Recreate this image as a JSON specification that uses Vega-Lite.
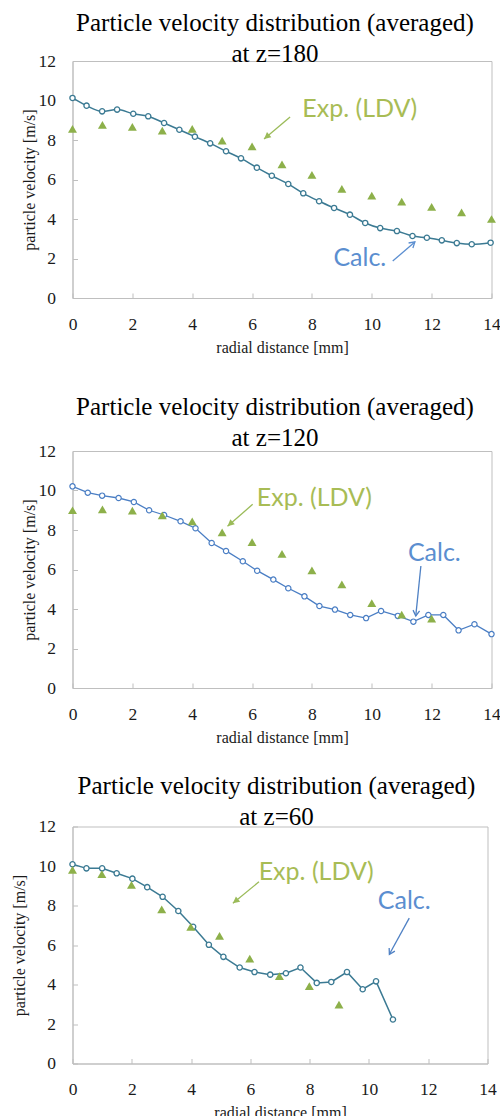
{
  "$schema": "https://vega.github.io/schema/vega-lite/v6.json",
  "background": "white",
  "padding": {"left": 10.5, "top": 10, "right": 5, "bottom": 5},
  "datasets": {
    "c180": [
      {"r": 0, "v": 10.13}, {"r": 0.47, "v": 9.74}, {"r": 0.99, "v": 9.45}, {"r": 1.49, "v": 9.54}, {"r": 2.03, "v": 9.33},
      {"r": 2.53, "v": 9.2}, {"r": 3.06, "v": 8.86}, {"r": 3.57, "v": 8.52}, {"r": 4.09, "v": 8.17}, {"r": 4.6, "v": 7.83},
      {"r": 5.13, "v": 7.43}, {"r": 5.63, "v": 7.07}, {"r": 6.16, "v": 6.6}, {"r": 6.66, "v": 6.19}, {"r": 7.21, "v": 5.77},
      {"r": 7.71, "v": 5.3}, {"r": 8.24, "v": 4.9}, {"r": 8.74, "v": 4.56}, {"r": 9.27, "v": 4.22}, {"r": 9.78, "v": 3.8},
      {"r": 10.28, "v": 3.54}, {"r": 10.84, "v": 3.39}, {"r": 11.36, "v": 3.14}, {"r": 11.84, "v": 3.05}, {"r": 12.34, "v": 2.92},
      {"r": 12.84, "v": 2.78}, {"r": 13.34, "v": 2.72}, {"r": 13.97, "v": 2.8}
    ],
    "e180": [
      {"r": 0, "v": 8.56}, {"r": 1, "v": 8.76}, {"r": 2, "v": 8.67}, {"r": 3, "v": 8.47}, {"r": 4, "v": 8.56},
      {"r": 5, "v": 7.97}, {"r": 6, "v": 7.68}, {"r": 7, "v": 6.77}, {"r": 8, "v": 6.23}, {"r": 9, "v": 5.52},
      {"r": 10, "v": 5.18}, {"r": 11, "v": 4.88}, {"r": 12, "v": 4.62}, {"r": 13, "v": 4.34}, {"r": 14, "v": 4.0}
    ],
    "c120": [
      {"r": 0, "v": 10.21}, {"r": 0.51, "v": 9.89}, {"r": 0.99, "v": 9.74}, {"r": 1.54, "v": 9.62}, {"r": 2.05, "v": 9.42},
      {"r": 2.56, "v": 9.0}, {"r": 3.06, "v": 8.76}, {"r": 3.61, "v": 8.44}, {"r": 4.11, "v": 8.09}, {"r": 4.65, "v": 7.34},
      {"r": 5.13, "v": 6.94}, {"r": 5.69, "v": 6.42}, {"r": 6.17, "v": 5.94}, {"r": 6.71, "v": 5.49}, {"r": 7.21, "v": 5.05},
      {"r": 7.75, "v": 4.64}, {"r": 8.25, "v": 4.15}, {"r": 8.77, "v": 3.97}, {"r": 9.28, "v": 3.7}, {"r": 9.81, "v": 3.54},
      {"r": 10.31, "v": 3.9}, {"r": 10.87, "v": 3.65}, {"r": 11.39, "v": 3.36}, {"r": 11.89, "v": 3.7}, {"r": 12.39, "v": 3.7},
      {"r": 12.9, "v": 2.92}, {"r": 13.43, "v": 3.23}, {"r": 14.0, "v": 2.73}
    ],
    "e120": [
      {"r": 0, "v": 9.0}, {"r": 1, "v": 9.05}, {"r": 2, "v": 8.98}, {"r": 3, "v": 8.74}, {"r": 4, "v": 8.44},
      {"r": 5, "v": 7.88}, {"r": 6, "v": 7.39}, {"r": 7, "v": 6.79}, {"r": 8, "v": 5.96}, {"r": 9, "v": 5.25},
      {"r": 10, "v": 4.3}, {"r": 11, "v": 3.71}, {"r": 12, "v": 3.51}
    ],
    "c60": [
      {"r": 0, "v": 10.09}, {"r": 0.47, "v": 9.88}, {"r": 1.0, "v": 9.88}, {"r": 1.49, "v": 9.63}, {"r": 2.02, "v": 9.36},
      {"r": 2.52, "v": 8.93}, {"r": 3.04, "v": 8.44}, {"r": 3.57, "v": 7.72}, {"r": 4.07, "v": 6.92}, {"r": 4.6, "v": 6.01},
      {"r": 5.09, "v": 5.4}, {"r": 5.64, "v": 4.86}, {"r": 6.14, "v": 4.63}, {"r": 6.67, "v": 4.5}, {"r": 7.2, "v": 4.57},
      {"r": 7.69, "v": 4.86}, {"r": 8.24, "v": 4.08}, {"r": 8.73, "v": 4.13}, {"r": 9.26, "v": 4.63}, {"r": 9.79, "v": 3.76},
      {"r": 10.24, "v": 4.16}, {"r": 10.81, "v": 2.23}
    ],
    "e60": [
      {"r": 0, "v": 9.8}, {"r": 0.99, "v": 9.59}, {"r": 1.99, "v": 9.05}, {"r": 3.01, "v": 7.8}, {"r": 3.99, "v": 6.92},
      {"r": 4.96, "v": 6.46}, {"r": 5.98, "v": 5.31}, {"r": 6.98, "v": 4.43}, {"r": 7.99, "v": 3.92}, {"r": 8.99, "v": 2.98}
    ],
    "notes": [
      {"z": 180, "kind": "Exp", "label": "Exp. (LDV)", "r": 9.6, "v": 9.57},
      {"z": 180, "kind": "Calc", "label": "Calc.", "r": 9.6, "v": 2.03},
      {"z": 120, "kind": "Exp", "label": "Exp. (LDV)", "r": 8.08, "v": 9.61},
      {"z": 120, "kind": "Calc", "label": "Calc.", "r": 12.09, "v": 6.82},
      {"z": 60, "kind": "Exp", "label": "Exp. (LDV)", "r": 8.22, "v": 9.7},
      {"z": 60, "kind": "Calc", "label": "Calc.", "r": 11.19, "v": 8.22}
    ],
    "arrows": [
      {"z": 180, "kind": "Exp", "r": 7.27, "v": 9.16, "r2": 6.4, "v2": 8.05},
      {"z": 180, "kind": "Calc", "r": 10.7, "v": 1.87, "r2": 11.44, "v2": 2.84},
      {"z": 120, "kind": "Exp", "r": 6.02, "v": 9.3, "r2": 5.18, "v2": 8.19},
      {"z": 120, "kind": "Calc", "r": 11.64, "v": 6.18, "r2": 11.47, "v2": 3.65},
      {"z": 60, "kind": "Exp", "r": 6.29, "v": 9.2, "r2": 5.41, "v2": 8.11},
      {"z": 60, "kind": "Calc", "r": 11.36, "v": 7.36, "r2": 10.69, "v2": 5.53}
    ]
  },
  "columns": 1,
  "align": "none",
  "spacing": 38,
  "concat": [
    {
      "width": 419, "height": 237,
      "title": {"text": ["Particle velocity distribution (averaged)", "at z=180"], "offset": -15, "dx": -7},
      "encoding": {
        "x": {"field": "r", "type": "quantitative", "scale": {"domain": [0, 14], "nice": false}, "axis": {"values": [0, 2, 4, 6, 8, 10, 12, 14], "title": "radial distance [mm]"}},
        "y": {"field": "v", "type": "quantitative", "scale": {"domain": [0, 12], "nice": false}, "axis": {"values": [0, 2, 4, 6, 8, 10, 12], "title": "particle velocity [m/s]", "titlePadding": 1}}
      },
      "resolve": {"scale": {"color": "independent"}},
      "layer": [
        {"data": {"name": "c180"}, "mark": {"type": "line", "color": "#3B7A93", "strokeWidth": 1.5, "interpolate": "monotone"}},
        {"data": {"name": "c180"}, "mark": {"type": "point", "shape": "circle", "filled": true, "fill": "#ffffff", "stroke": "#3B7A93", "strokeWidth": 1.3, "size": 28, "opacity": 1}},
        {"data": {"name": "e180"}, "mark": {"type": "point", "shape": "triangle-up", "filled": true, "color": "#8DB04A", "size": 80, "opacity": 1}},
        {"data": {"name": "arrows"}, "transform": [{"filter": "datum.z == 180"}], "mark": {"type": "rule", "strokeWidth": 1.3},
         "encoding": {"x2": {"field": "r2"}, "y2": {"field": "v2"}, "color": {"field": "kind", "type": "nominal", "scale": {"domain": ["Exp", "Calc"], "range": ["#9BBB59", "#5B8ED0"]}, "legend": null}}},
        {"data": {"name": "arrows"}, "transform": [{"filter": "datum.z == 180 && datum.kind == 'Exp'"}],
         "mark": {"type": "point", "shape": "M0,0L-1,-0.5L-1,0.5Z", "filled": true, "color": "#9BBB59", "size": 180, "angle": 139.8, "opacity": 1},
         "encoding": {"x": {"field": "r2", "type": "quantitative", "scale": {"domain": [0, 14]}}, "y": {"field": "v2", "type": "quantitative", "scale": {"domain": [0, 12]}}}},
        {"data": {"name": "arrows"}, "transform": [{"filter": "datum.z == 180 && datum.kind == 'Calc'"}],
         "mark": {"type": "point", "shape": "M-1,-0.6L0,0L-1,0.6", "filled": false, "color": "#5B8ED0", "strokeWidth": 1.3, "size": 120, "angle": -40.8, "opacity": 1},
         "encoding": {"x": {"field": "r2", "type": "quantitative", "scale": {"domain": [0, 14]}}, "y": {"field": "v2", "type": "quantitative", "scale": {"domain": [0, 12]}}}},
        {"data": {"name": "notes"}, "transform": [{"filter": "datum.z == 180"}], "mark": {"type": "text", "font": "Lato", "fontSize": 25},
         "encoding": {"text": {"field": "label"}, "color": {"field": "kind", "type": "nominal", "scale": {"domain": ["Exp", "Calc"], "range": ["#A8BC55", "#5B8ED0"]}, "legend": null}}}
      ]
    },
    {
      "columns": 1,
      "align": "none",
      "spacing": 26.5,
      "concat": [
        {
          "width": 419, "height": 237,
          "title": {"text": ["Particle velocity distribution (averaged)", "at z=120"], "offset": -8.5, "dx": -7},
          "encoding": {
            "x": {"field": "r", "type": "quantitative", "scale": {"domain": [0, 14], "nice": false}, "axis": {"values": [0, 2, 4, 6, 8, 10, 12, 14], "title": "radial distance [mm]"}},
            "y": {"field": "v", "type": "quantitative", "scale": {"domain": [0, 12], "nice": false}, "axis": {"values": [0, 2, 4, 6, 8, 10, 12], "title": "particle velocity [m/s]", "titlePadding": 1}}
          },
          "resolve": {"scale": {"color": "independent"}},
          "layer": [
            {"data": {"name": "c120"}, "mark": {"type": "line", "color": "#4A7EC4", "strokeWidth": 1.3}},
            {"data": {"name": "c120"}, "mark": {"type": "point", "shape": "circle", "filled": true, "fill": "#ffffff", "stroke": "#4A7EC4", "strokeWidth": 1.2, "size": 28, "opacity": 1}},
            {"data": {"name": "e120"}, "mark": {"type": "point", "shape": "triangle-up", "filled": true, "color": "#8DB04A", "size": 80, "opacity": 1}},
            {"data": {"name": "arrows"}, "transform": [{"filter": "datum.z == 120"}], "mark": {"type": "rule", "strokeWidth": 1.3},
             "encoding": {"x2": {"field": "r2"}, "y2": {"field": "v2"}, "color": {"field": "kind", "type": "nominal", "scale": {"domain": ["Exp", "Calc"], "range": ["#9BBB59", "#4F81C4"]}, "legend": null}}},
            {"data": {"name": "arrows"}, "transform": [{"filter": "datum.z == 120 && datum.kind == 'Exp'"}],
             "mark": {"type": "point", "shape": "M0,0L-1,-0.5L-1,0.5Z", "filled": true, "color": "#9BBB59", "size": 180, "angle": 138.7, "opacity": 1},
             "encoding": {"x": {"field": "r2", "type": "quantitative", "scale": {"domain": [0, 14]}}, "y": {"field": "v2", "type": "quantitative", "scale": {"domain": [0, 12]}}}},
            {"data": {"name": "arrows"}, "transform": [{"filter": "datum.z == 120 && datum.kind == 'Calc'"}],
             "mark": {"type": "point", "shape": "M-1,-0.6L0,0L-1,0.6", "filled": false, "color": "#4F81C4", "strokeWidth": 1.3, "size": 120, "angle": 95.7, "opacity": 1},
             "encoding": {"x": {"field": "r2", "type": "quantitative", "scale": {"domain": [0, 14]}}, "y": {"field": "v2", "type": "quantitative", "scale": {"domain": [0, 12]}}}},
            {"data": {"name": "notes"}, "transform": [{"filter": "datum.z == 120"}], "mark": {"type": "text", "font": "Lato", "fontSize": 25},
             "encoding": {"text": {"field": "label"}, "color": {"field": "kind", "type": "nominal", "scale": {"domain": ["Exp", "Calc"], "range": ["#A8BC55", "#5B8ED0"]}, "legend": null}}}
          ]
        },
        {
          "width": 415, "height": 237,
          "title": {"text": ["Particle velocity distribution (averaged)", "at z=60"], "offset": -12, "dx": -3.5},
          "encoding": {
            "x": {"field": "r", "type": "quantitative", "scale": {"domain": [0, 14], "nice": false}, "axis": {"values": [0, 2, 4, 6, 8, 10, 12, 14], "title": "radial distance [mm]"}},
            "y": {"field": "v", "type": "quantitative", "scale": {"domain": [0, 12], "nice": false}, "axis": {"values": [0, 2, 4, 6, 8, 10, 12], "title": "particle velocity [m/s]", "titlePadding": 10.5}}
          },
          "resolve": {"scale": {"color": "independent"}},
          "layer": [
            {"data": {"name": "c60"}, "mark": {"type": "line", "color": "#3B7A93", "strokeWidth": 1.5}},
            {"data": {"name": "c60"}, "mark": {"type": "point", "shape": "circle", "filled": true, "fill": "#ffffff", "stroke": "#3B7A93", "strokeWidth": 1.3, "size": 28, "opacity": 1}},
            {"data": {"name": "e60"}, "mark": {"type": "point", "shape": "triangle-up", "filled": true, "color": "#8DB04A", "size": 80, "opacity": 1}},
            {"data": {"name": "arrows"}, "transform": [{"filter": "datum.z == 60"}], "mark": {"type": "rule", "strokeWidth": 1.3},
             "encoding": {"x2": {"field": "r2"}, "y2": {"field": "v2"}, "color": {"field": "kind", "type": "nominal", "scale": {"domain": ["Exp", "Calc"], "range": ["#9BBB59", "#4F81C4"]}, "legend": null}}},
            {"data": {"name": "arrows"}, "transform": [{"filter": "datum.z == 60 && datum.kind == 'Exp'"}],
             "mark": {"type": "point", "shape": "M0,0L-1,-0.5L-1,0.5Z", "filled": true, "color": "#9BBB59", "size": 180, "angle": 140.6, "opacity": 1},
             "encoding": {"x": {"field": "r2", "type": "quantitative", "scale": {"domain": [0, 14]}}, "y": {"field": "v2", "type": "quantitative", "scale": {"domain": [0, 12]}}}},
            {"data": {"name": "arrows"}, "transform": [{"filter": "datum.z == 60 && datum.kind == 'Calc'"}],
             "mark": {"type": "point", "shape": "M-1,-0.6L0,0L-1,0.6", "filled": false, "color": "#4F81C4", "strokeWidth": 1.3, "size": 120, "angle": 119, "opacity": 1},
             "encoding": {"x": {"field": "r2", "type": "quantitative", "scale": {"domain": [0, 14]}}, "y": {"field": "v2", "type": "quantitative", "scale": {"domain": [0, 12]}}}},
            {"data": {"name": "notes"}, "transform": [{"filter": "datum.z == 60"}], "mark": {"type": "text", "font": "Lato", "fontSize": 25},
             "encoding": {"text": {"field": "label"}, "color": {"field": "kind", "type": "nominal", "scale": {"domain": ["Exp", "Calc"], "range": ["#A8BC55", "#5B8ED0"]}, "legend": null}}}
          ]
        }
      ]
    }
  ],
  "config": {
    "view": {"stroke": "#BFBFBF", "strokeWidth": 1},
    "title": {"font": "Liberation Serif", "fontSize": 25, "fontWeight": "normal", "color": "#000000", "lineHeight": 31, "frame": "group"},
    "axis": {
      "grid": false, "domainColor": "#BFBFBF", "tickColor": "#BFBFBF", "tickSize": -5, "labelFlush": false,
      "labelFont": "Liberation Serif", "labelFontSize": 17.5, "labelColor": "#1a1a1a",
      "titleFont": "Liberation Serif", "titleFontSize": 16, "titleFontWeight": "normal", "titleColor": "#1a1a1a"
    },
    "axisX": {"labelPadding": 22, "titlePadding": 6.5},
    "axisY": {"labelPadding": 22}
  }
}
